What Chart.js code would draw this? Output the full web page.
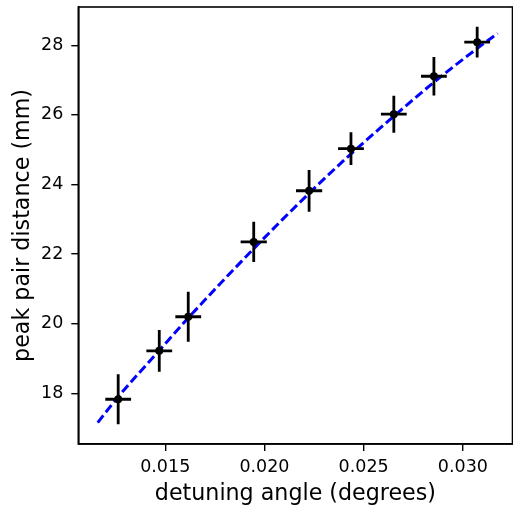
<!DOCTYPE html>
<html>
<head>
<meta charset="utf-8">
<script src="https://cdn.jsdelivr.net/npm/chart.js@4.4.1/dist/chart.umd.min.js"></script>
<style>
  html, body { margin: 0; padding: 0; background: #fff; }
  #wrap { width: 513px; height: 508px; }
</style>
</head>
<body>
<div id="wrap"><canvas id="c" width="513" height="508"></canvas></div>
<script>
const angles    = [0.01263, 0.01470, 0.01616, 0.01946, 0.02225, 0.02436, 0.02652, 0.02854, 0.03072];
const distances = [17.83, 19.22, 20.20, 22.35, 23.82, 25.03, 26.02, 27.11, 28.09];
const distErr   = [0.72, 0.60, 0.72, 0.58, 0.60, 0.47, 0.53, 0.55, 0.44];
const angleErr  = [0.00065, 0.00065, 0.00065, 0.00066, 0.00066, 0.00065, 0.00065, 0.00065, 0.00065];

// Fit curve
const fitX = [0.0116, 0.0126, 0.0147, 0.0162, 0.0195, 0.0222, 0.0244, 0.0265, 0.0285, 0.0307, 0.03175];
const fitY = [17.16, 17.88, 19.23, 20.19, 22.18, 23.72, 24.90, 25.95, 26.92, 27.90, 28.34];

// Tick labels
const xTicks = [0.015, 0.020, 0.025, 0.030];
const yTicks = [18, 20, 22, 24, 26, 28];

const FONT = "'DejaVu Sans', sans-serif";

const errorBars = {
  id: 'errorBars',
  afterDatasetsDraw(chart) {
    const ctx = chart.ctx, xs = chart.scales.x, ys = chart.scales.y;
    ctx.save();
    ctx.strokeStyle = '#000';
    ctx.lineWidth = 2.8;
    ctx.lineCap = 'butt';
    for (let i = 0; i < angles.length; i++) {
      const px = xs.getPixelForValue(angles[i]);
      const py = ys.getPixelForValue(distances[i]);
      const y0 = ys.getPixelForValue(distances[i] - distErr[i]);
      const y1 = ys.getPixelForValue(distances[i] + distErr[i]);
      const x0 = xs.getPixelForValue(angles[i] - angleErr[i]);
      const x1 = xs.getPixelForValue(angles[i] + angleErr[i]);
      ctx.beginPath();
      ctx.moveTo(px, y0); ctx.lineTo(px, y1);
      ctx.moveTo(x0, py); ctx.lineTo(x1, py);
      ctx.stroke();
    }
    ctx.fillStyle = '#000';
    for (let i = 0; i < angles.length; i++) {
      const px = xs.getPixelForValue(angles[i]);
      const py = ys.getPixelForValue(distances[i]);
      ctx.beginPath();
      ctx.arc(px, py, 4, 0, Math.PI * 2);
      ctx.fill();
    }
    ctx.restore();
  }
};

const frame = {
  id: 'frame',
  afterDraw(chart) {
    const a = chart.chartArea, ctx = chart.ctx;
    ctx.save();
    ctx.strokeStyle = '#000';
    ctx.lineWidth = 1.6;
    ctx.strokeRect(a.left, a.top, a.right - a.left, a.bottom - a.top);
    ctx.restore();
  }
};

new Chart(document.getElementById('c'), {
  type: 'scatter',
  data: {
    datasets: [
      {
        type: 'line',
        data: fitX.map((x, i) => ({ x: x, y: fitY[i] })),
        borderColor: '#0000ff',
        borderWidth: 3,
        borderDash: [9, 4],
        pointRadius: 0,
        cubicInterpolationMode: 'monotone',
        fill: false
      }
    ]
  },
  options: {
    responsive: false,
    animation: false,
    events: [],
    layout: { padding: { left: 0, top: 7, right: 0.5, bottom: 0 } },
    plugins: { legend: { display: false }, tooltip: { enabled: false } },
    scales: {
      x: {
        type: 'linear',
        min: 0.01062,
        max: 0.0325,
        afterBuildTicks(s) { s.ticks = xTicks.map(v => ({ value: v })); },
        afterFit(s) { s.height = 64; s.paddingLeft = 0; s.paddingRight = 0; },
        grid: { display: true, drawOnChartArea: false, drawTicks: true, tickLength: 7, color: '#000', lineWidth: 1.4 },
        border: { display: true, color: '#000', width: 1.6 },
        ticks: {
          color: '#000',
          font: { family: FONT, size: 17.5 },
          padding: 6,
          maxRotation: 0,
          callback: v => v.toFixed(3)
        },
        title: {
          display: true,
          text: 'detuning angle (degrees)',
          color: '#000',
          font: { family: FONT, size: 22.2 },
          padding: { top: 0, bottom: 0 }
        }
      },
      y: {
        type: 'linear',
        min: 16.544,
        max: 29.10,
        afterBuildTicks(s) { s.ticks = yTicks.map(v => ({ value: v })); },
        afterFit(s) { s.width = 78.3; s.paddingTop = 0; s.paddingBottom = 0; },
        grid: { display: true, drawOnChartArea: false, drawTicks: true, tickLength: 7, color: '#000', lineWidth: 1.4 },
        border: { display: true, color: '#000', width: 1.6 },
        ticks: {
          color: '#000',
          font: { family: FONT, size: 17.5 },
          padding: 8,
          callback: v => String(v)
        },
        title: {
          display: true,
          text: 'peak pair distance (mm)',
          color: '#000',
          font: { family: FONT, size: 22.2 },
          padding: { top: 10, bottom: 0 }
        }
      }
    }
  },
  plugins: [errorBars, frame]
});
</script>
</body>
</html>
